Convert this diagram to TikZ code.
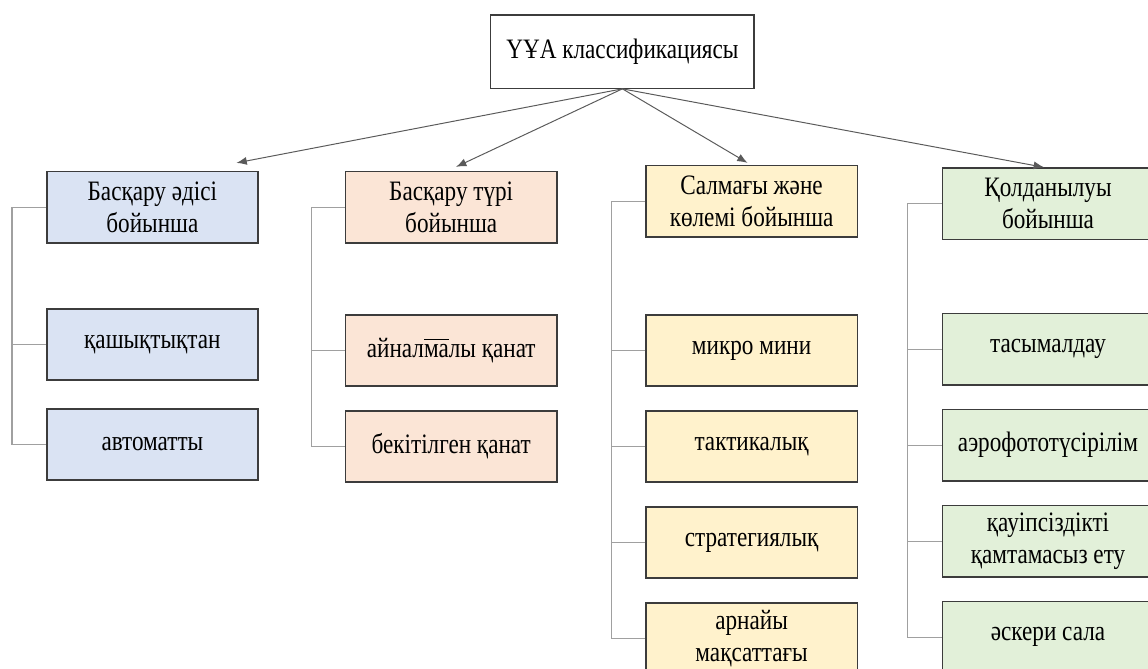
\documentclass[tikz,border=0pt]{standalone}
\usepackage{fontspec}
\setmainfont{Liberation Serif}[FakeStretch=0.825]
\usepackage{tikz}
\usetikzlibrary{arrows.meta}

\definecolor{lineGray}{HTML}{5A5A5A}
\definecolor{trunkGray}{HTML}{A0A0A0}
\definecolor{boxBorder}{HTML}{3C3C3C}
\definecolor{fillBlue}{HTML}{DAE3F3}
\definecolor{fillPeach}{HTML}{FBE5D6}
\definecolor{fillYellow}{HTML}{FFF2CC}
\definecolor{fillGreen}{HTML}{E2F0D9}

\newcommand\overmark[1]{\leavevmode\vbox{\hrule height 0.8pt\kern 3pt\hbox{#1}}}

\tikzset{
  headbox/.style={draw=boxBorder, line width=0.9pt, fill=white, minimum width=6.58cm, minimum height=1.83cm, align=center},
  catbox/.style={draw=boxBorder, line width=1pt, minimum width=5.28cm, minimum height=1.78cm, align=center},
  leafbox/.style={catbox},
  branch/.style={draw=trunkGray, line width=1pt},
  link/.style={draw=lineGray, line width=0.7pt, ->}
}

\begin{document}
\begin{tikzpicture}[node distance=2.4cm, >={Latex[length=2.6mm,width=2mm]}, font=\fontsize{20}{22.5}\selectfont]
\useasboundingbox (0,0) rectangle (28.7,-16.7);

% root
\node (root) [headbox] at (15.56,-1.29) {ҮҰА классификациясы};

% categories
\node (b1) [catbox, fill=fillBlue] at (3.81,-5.18) {Басқару әдісі\\бойынша};
\node (b2) [catbox, fill=fillPeach] at (11.28,-5.18) {Басқару түрі\\бойынша};
\node (b3) [catbox, fill=fillYellow] at (18.79,-5.03) {Салмағы және\\көлемі бойынша};
\node (b4) [catbox, fill=fillGreen] at (26.2,-5.09) {Қолданылуы\\бойынша};

% column 1
\node (c11) [leafbox, fill=fillBlue, below of=b1, node distance=3.43cm] {қашықтықтан};
\node (c12) [leafbox, fill=fillBlue, below of=c11, node distance=2.5cm] {автоматты};

% column 2
\node (c21) [leafbox, fill=fillPeach, below of=b2, node distance=3.58cm] {айнал\overmark{ма}лы қанат};
\node (c22) [leafbox, fill=fillPeach, below of=c21] {бекітілген қанат};

% column 3
\node (c31) [leafbox, fill=fillYellow, below of=b3, node distance=3.73cm] {микро мини};
\node (c32) [leafbox, fill=fillYellow, below of=c31] {тактикалық};
\node (c33) [leafbox, fill=fillYellow, below of=c32] {стратегиялық};
\node (c34) [leafbox, fill=fillYellow, below of=c33] {арнайы\\мақсаттағы};

% column 4
\node (c41) [leafbox, fill=fillGreen, below of=b4, node distance=3.64cm] {тасымалдау};
\node (c42) [leafbox, fill=fillGreen, below of=c41] {аэрофототүсірілім};
\node (c43) [leafbox, fill=fillGreen, below of=c42] {қауіпсіздікті\\қамтамасыз ету};
\node (c44) [leafbox, fill=fillGreen, below of=c43] {әскери сала};

% trunks
\coordinate (k1) at (0.3,0);
\coordinate (k2) at (7.78,0);
\coordinate (k3) at (15.28,0);
\coordinate (k4) at (22.68,0);

% arrows
\draw[link] (root.south) -- ([xshift=2.1cm,yshift=0.2cm]b1.north);
\draw[link] (root.south) -- ([xshift=0.12cm,yshift=0.1cm]b2.north);
\draw[link] (root.south) -- ([xshift=-0.1cm,yshift=0.05cm]b3.north);
\draw[link] (root.south) -- ([xshift=-0.1cm]b4.north);

% branches
\draw[branch] (b1.west) -- (b1.west -| k1) |- (c12.west);
\draw[branch] (c11.west) -- (c11.west -| k1);
\draw[branch] (b2.west) -- (b2.west -| k2) |- (c22.west);
\draw[branch] (c21.west) -- (c21.west -| k2);
\draw[branch] (b3.west) -- (b3.west -| k3) |- (c34.west);
\draw[branch] (c31.west) -- (c31.west -| k3);
\draw[branch] (c32.west) -- (c32.west -| k3);
\draw[branch] (c33.west) -- (c33.west -| k3);
\draw[branch] (b4.west) -- (b4.west -| k4) |- (c44.west);
\draw[branch] (c41.west) -- (c41.west -| k4);
\draw[branch] (c42.west) -- (c42.west -| k4);
\draw[branch] (c43.west) -- (c43.west -| k4);
\end{tikzpicture}
\end{document}
